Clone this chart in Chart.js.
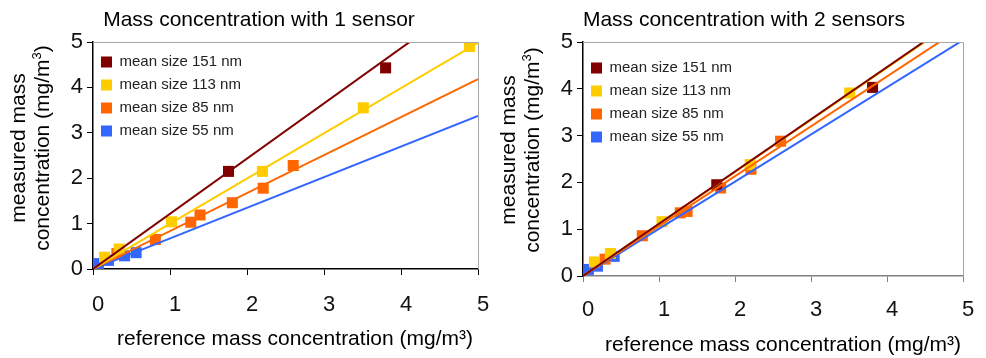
<!DOCTYPE html>
<html>
<head>
<meta charset="utf-8">
<script src="https://cdn.jsdelivr.net/npm/chart.js@4"></script>
<style>
  body { margin: 0; background: #fff; }
  #page { position: relative; width: 986px; height: 358px; font-family: "Liberation Sans", Arial, sans-serif; color: #000; }
  .box { position: absolute; top: 0; height: 358px; }
  .txt { position: absolute; font-size: 21px; line-height: 21px; text-align: center; white-space: nowrap; }
  .ytitle { position: absolute; width: 240px; height: 48px; font-size: 21px; line-height: 24px; text-align: center; white-space: nowrap; transform: rotate(-90deg); }
</style>
</head>
<body>
<div id="page">
  <div class="box" style="left:0;width:490px"><canvas id="c1"></canvas></div>
  <div class="box" style="left:490px;width:496px"><canvas id="c2"></canvas></div>

  <div class="txt" style="left:59px;top:8px;width:400px">Mass concentration with 1 sensor</div>
  <div class="txt" style="left:544px;top:8px;width:400px">Mass concentration with 2 sensors</div>
  <div class="txt" style="left:85px;top:327px;width:420px">reference mass concentration (mg/m³)</div>
  <div class="txt" style="left:573px;top:333px;width:420px">reference mass concentration (mg/m³)</div>
  <div class="ytitle" style="left:-90px;top:124px">measured mass<br>concentration (mg/m<sup style="font-size:13px;line-height:0">3</sup>)</div>
  <div class="ytitle" style="left:400px;top:126px">measured mass<br>concentration (mg/m<sup style="font-size:13px;line-height:0">3</sup>)</div>
</div>
<script>
// series, in legend order
const seriesNames = ["mean size 151 nm", "mean size 113 nm", "mean size 85 nm", "mean size 55 nm"];
const seriesColors = ["#800000", "#ffcc00", "#ff6600", "#3366ff"];
const axisTicks = [0, 1, 2, 3, 4, 5];

// --- 1 sensor: reference (x) vs measured (y), mg/m3
const ref1_151 = [1.76, 3.80];
const meas1_151 = [2.15, 4.43];
const ref1_113 = [0.15, 0.34, 1.02, 2.20, 3.51, 4.89];
const meas1_113 = [0.26, 0.44, 1.04, 2.15, 3.55, 4.90];
const ref1_85 = [0.31, 0.81, 1.27, 1.39, 1.81, 2.21, 2.60];
const meas1_85 = [0.34, 0.65, 1.03, 1.19, 1.46, 1.78, 2.28];
const ref1_55 = [0.07, 0.20, 0.41, 0.56];
const meas1_55 = [0.12, 0.19, 0.29, 0.36];
// fitted lines through the origin, value at x = 5
const fit1At5 = [6.08, 4.98, 4.18, 3.37];

// --- 2 sensors
const ref2_151 = [1.76, 3.81];
const meas2_151 = [1.95, 4.03];
const ref2_113 = [0.15, 0.36, 1.04, 2.20, 3.51];
const meas2_113 = [0.30, 0.48, 1.16, 2.38, 3.91];
const ref2_85 = [0.29, 0.78, 1.28, 1.37, 1.81, 2.21, 2.60];
const meas2_85 = [0.36, 0.86, 1.35, 1.38, 1.88, 2.28, 2.88];
const ref2_55 = [0.07, 0.19, 0.41];
const meas2_55 = [0.14, 0.21, 0.42];
const fit2At5 = [5.58, 5.56, 5.33, 5.04];

const FONT = "'Liberation Sans', Arial, sans-serif";

function pts(xs, ys) {
  return xs.map(function(x, i) { return { x: x, y: ys[i] }; });
}

// light grey frame on top and right of the plot
const framePlugin = {
  id: "frame",
  afterDatasetsDraw(chart) {
    const a = chart.chartArea, ctx = chart.ctx;
    ctx.save();
    ctx.strokeStyle = "#a6a6a6";
    ctx.lineWidth = 1;
    ctx.beginPath();
    ctx.moveTo(a.left, a.top + 0.5);
    ctx.lineTo(a.right + 0.5, a.top + 0.5);
    ctx.lineTo(a.right + 0.5, a.bottom);
    ctx.stroke();
    ctx.restore();
  }
};

function makeChart(id, refs, meas, fits, opt) {
  const datasets = [];
  for (let i = 0; i < seriesNames.length; i++) {
    datasets.push({
      label: "",
      data: [{ x: 0, y: 0 }, { x: 5, y: fits[i] }],
      showLine: true,
      borderColor: seriesColors[i],
      borderWidth: 2,
      pointRadius: 0,
      order: 0
    });
  }
  for (let i = 0; i < seriesNames.length; i++) {
    datasets.push({
      label: seriesNames[i],
      data: pts(refs[i], meas[i]),
      backgroundColor: seriesColors[i],
      borderColor: seriesColors[i],
      borderWidth: 0,
      pointStyle: "rect",
      pointRadius: 7.8,
      order: 1
    });
  }

  const axis = function(isX) {
    return {
      type: "linear",
      min: axisTicks[0],
      max: axisTicks[axisTicks.length - 1],
      afterBuildTicks: function(s) { s.ticks = axisTicks.map(function(v) { return { value: v }; }); },
      ticks: {
        color: "#111",
        font: { family: FONT, size: 22 },
        padding: isX ? opt.xPad : 4,
        labelOffset: isX ? 5 : 0,
        maxRotation: 0
      },
      grid: { drawOnChartArea: false, drawTicks: true, tickLength: 6, color: isX ? opt.xColor : "#000" },
      border: { color: isX ? opt.xColor : "#000", width: 1.5 },
      afterFit: function(s) {
        // fixed axis sizes so the plot box lands where the original one is
        if (isX) { s.height = 50; s.paddingLeft = 0; s.paddingRight = 0; }
        else { s.width = 93; s.paddingTop = 0; s.paddingBottom = 0; }
      }
    };
  };

  return new Chart(document.getElementById(id), {
    type: "scatter",
    data: { datasets: datasets },
    options: {
      responsive: true,
      maintainAspectRatio: false,
      animation: false,
      layout: { padding: opt.padding },
      scales: { x: axis(true), y: axis(false) },
      plugins: {
        tooltip: { enabled: false },
        legend: {
          position: "chartArea",
          align: "start",
          title: { display: true, text: "", font: { size: 1, lineHeight: 1 }, padding: { top: opt.legendTop, bottom: 0 } },
          labels: {
            color: "#222",
            font: { family: FONT, size: 15 },
            boxWidth: 11,
            boxHeight: 11,
            padding: 8,
            filter: function(item) { return item.text !== ""; }
          }
        }
      }
    },
    plugins: [framePlugin]
  });
}

makeChart("c1",
  [ref1_151, ref1_113, ref1_85, ref1_55],
  [meas1_151, meas1_113, meas1_85, meas1_55],
  fit1At5,
  { padding: { left: 0, top: 42, right: 12, bottom: 39 }, xColor: "#000", xPad: 17, legendTop: 45.5 });

makeChart("c2",
  [ref2_151, ref2_113, ref2_85, ref2_55],
  [meas2_151, meas2_113, meas2_85, meas2_55],
  fit2At5,
  { padding: { left: 0, top: 42, right: 23, bottom: 32 }, xColor: "#808080", xPad: 15, legendTop: 51.5 });
</script>
</body>
</html>
